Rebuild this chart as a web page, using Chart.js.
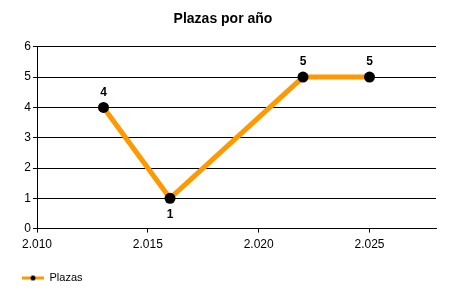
<!DOCTYPE html>
<html>
<head>
<meta charset="utf-8">
<script src="https://cdn.jsdelivr.net/npm/chart.js@4/dist/chart.umd.min.js"></script>
<style>
    html, body { margin: 0; padding: 0; background: #fff; }
    #chart { display: block; }
</style>
</head>
<body>
<canvas id="chart" width="450" height="300"></canvas>
<script>
const years = [2013, 2016, 2022, 2025];
const plazas = [4, 1, 5, 5];
const seriesName = 'Plazas';
const chartTitle = 'Plazas por año';
const xRange = [2010, 2028];
const yRange = [0, 6];

const lineColor = '#ff9900';
const textFont = '"Liberation Sans", Arial, sans-serif';

// spanish thousands separator: 2010 -> 2.010
function formatYear(value) {
    return String(value).replace(/\B(?=(\d{3})+(?!\d))/g, '.');
}

function legendMarker() {
    const c = document.createElement('canvas');
    c.width = 22;
    c.height = 8;
    const ctx = c.getContext('2d');
    ctx.fillStyle = lineColor;
    ctx.fillRect(0, 3, 22, 3);
    ctx.fillStyle = '#000';
    ctx.beginPath();
    ctx.arc(11, 4.5, 2.5, 0, Math.PI * 2);
    ctx.fill();
    return c;
}

const pointLabels = {
    id: 'pointLabels',
    afterDatasetsDraw(chart) {
        const ctx = chart.ctx;
        const meta = chart.getDatasetMeta(0);
        const data = chart.data.datasets[0].data;
        ctx.save();
        ctx.font = 'bold 12px ' + textFont;
        ctx.fillStyle = '#000';
        ctx.textAlign = 'center';
        ctx.textBaseline = 'middle';
        meta.data.forEach((pt, i) => {
            const v = data[i].y;
            const prev = i > 0 ? data[i - 1].y : Infinity;
            const next = i < data.length - 1 ? data[i + 1].y : Infinity;
            const below = v < prev && v < next;
            ctx.fillText(String(v), pt.x, below ? pt.y + 16 : pt.y - 15);
        });
        ctx.restore();
    }
};

new Chart('chart', {
    type: 'line',
    data: {
        datasets: [
            {
                label: seriesName,
                data: years.map((y, i) => ({ x: y, y: plazas[i] })),
                borderColor: lineColor,
                backgroundColor: '#000',
                borderWidth: 5,
                pointStyle: 'circle',
                pointRadius: 5.5,
                pointHoverRadius: 5.5,
                pointBackgroundColor: '#000',
                pointBorderColor: '#000',
                pointBorderWidth: 0,
                tension: 0,
                fill: false
            }
        ]
    },
    options: {
        responsive: false,
        animation: false,
        events: [],
        layout: {
            padding: { left: 10, right: 14, top: 0, bottom: 7 }
        },
        scales: {
            x: {
                type: 'linear',
                min: xRange[0],
                max: xRange[1],
                afterFit(scale) {
                    scale.height += 3;
                },
                grid: {
                    drawOnChartArea: false,
                    drawTicks: true,
                    tickLength: 4,
                    tickColor: '#000'
                },
                border: { display: true, color: '#000', width: 1 },
                ticks: {
                    stepSize: 5,
                    includeBounds: false,
                    maxRotation: 0,
                    padding: 5,
                    color: '#000',
                    font: { family: textFont, size: 12 },
                    callback: (v) => formatYear(v)
                }
            },
            y: {
                min: yRange[0],
                max: yRange[1],
                afterFit(scale) {
                    scale.width = 27;
                },
                grid: {
                    color: '#000',
                    lineWidth: 1,
                    drawTicks: true,
                    tickLength: 4,
                    tickColor: '#000'
                },
                border: { display: true, color: '#000', width: 1 },
                ticks: {
                    stepSize: 1,
                    padding: 2,
                    color: '#000',
                    font: { family: textFont, size: 12 }
                }
            }
        },
        plugins: {
            title: {
                display: true,
                text: chartTitle,
                color: '#000',
                font: { family: textFont, size: 14, weight: 'bold' },
                padding: { top: 11, bottom: 19 }
            },
            legend: {
                display: true,
                position: 'bottom',
                align: 'start',
                labels: {
                    usePointStyle: true,
                    pointStyleWidth: 22,
                    color: '#000',
                    padding: 12,
                    font: { family: textFont, size: 11 },
                    generateLabels: (chart) => [{
                        text: seriesName,
                        pointStyle: legendMarker(),
                        fillStyle: lineColor,
                        strokeStyle: lineColor,
                        lineWidth: 0,
                        datasetIndex: 0
                    }]
                }
            },
            tooltip: { enabled: false }
        }
    },
    plugins: [pointLabels]
});
</script>
</body>
</html>
